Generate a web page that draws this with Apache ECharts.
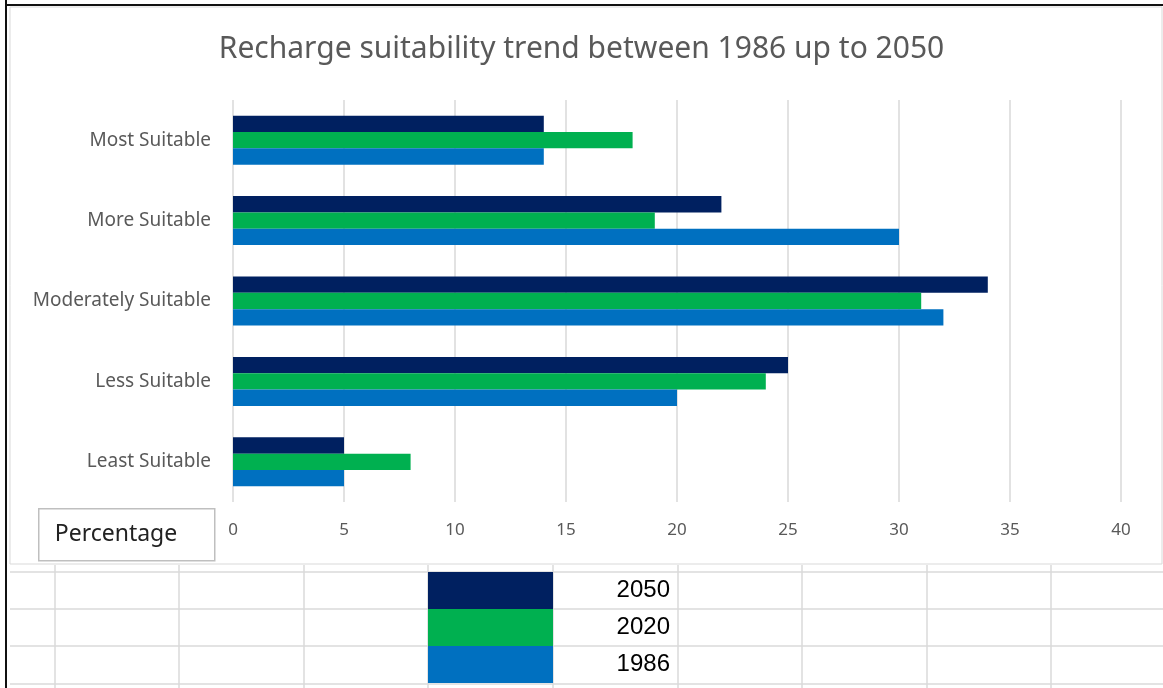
<!DOCTYPE html>
<html>
<head>
<meta charset="utf-8">
<script src="https://cdn.jsdelivr.net/npm/echarts@6/dist/echarts.min.js"></script>
<style>
html,body{margin:0;padding:0;background:#fff;}
#main{width:1163px;height:688px;}
</style>
</head>
<body>
<div id="main"></div>
<script>
var categories = ['Most Suitable', 'More Suitable', 'Moderately Suitable', 'Less Suitable', 'Least Suitable'];
var years = ['2050', '2020', '1986'];
var values2050 = [14, 22, 34, 25, 5];
var values2020 = [18, 19, 31, 24, 8];
var values1986 = [14, 30, 32, 20, 5];
var xTicks = { min: 0, max: 40, step: 5 };

var colors = ['#002060', '#00b050', '#0070c0'];
var seriesValues = [values2050, values2020, values1986];

var chart = echarts.init(document.getElementById('main'));

// spreadsheet grid under the chart (decoration only)
var gridLines = [];
var rowsY = [572, 609, 646, 684];
var colsX = [55, 179, 304, 428, 553, 678, 802, 927, 1051];
rowsY.forEach(function (y) {
    gridLines.push({ type: 'line', z: 0, shape: { x1: 10, y1: y, x2: 1163, y2: y }, style: { stroke: '#dadada', lineWidth: 1.5 } });
});
colsX.forEach(function (x) {
    gridLines.push({ type: 'line', z: 0, shape: { x1: x, y1: 565, x2: x, y2: 688 }, style: { stroke: '#dadada', lineWidth: 1.5 } });
});
gridLines.push({ type: 'rect', z: 0, shape: { x: 10, y: 7, width: 1152, height: 557 }, style: { fill: null, stroke: '#d9d9d9', lineWidth: 1 } });
gridLines.push({ type: 'line', z: 1, shape: { x1: 6, y1: 0, x2: 6, y2: 688 }, style: { stroke: '#111', lineWidth: 2 } });
gridLines.push({ type: 'line', z: 1, shape: { x1: 6, y1: 5, x2: 1163, y2: 5 }, style: { stroke: '#111', lineWidth: 2 } });
gridLines.push({
    type: 'group', left: 38, top: 508, z: 5,
    children: [
        { type: 'rect', shape: { x: 0, y: 0, width: 176, height: 52 }, style: { fill: '#fff', stroke: '#bfbfbf', lineWidth: 1.5 } },
        { type: 'text', x: 16, y: 26, style: { text: 'Percentage', font: '23px "Noto Sans"', fill: '#222', verticalAlign: 'middle' } }
    ]
});

var option = {
    animation: false,
    backgroundColor: '#fff',
    title: {
        text: 'Recharge suitability trend between 1986 up to 2050',
        left: 'center',
        top: 29,
        textStyle: { fontFamily: 'Noto Sans', fontSize: 30, fontWeight: 'normal', color: '#595959' }
    },
    legend: {
        data: years,
        orient: 'vertical',
        left: 428,
        top: 572,
        padding: 0,
        itemGap: 0,
        itemWidth: 125,
        itemHeight: 37,
        icon: 'rect',
        selectedMode: false,
        formatter: function (name) { return '{v|' + name + '}'; },
        textStyle: {
            rich: {
                v: { width: 112, align: 'right', fontFamily: 'Liberation Sans', fontSize: 24, color: '#000' }
            }
        }
    },
    grid: { left: 233, right: 42, top: 100, bottom: 186 },
    xAxis: {
        type: 'value',
        min: xTicks.min,
        max: xTicks.max,
        interval: xTicks.step,
        axisLine: { show: false },
        axisTick: { show: false },
        splitLine: { lineStyle: { color: '#d9d9d9', width: 1.5 } },
        axisLabel: { color: '#595959', fontFamily: 'Noto Sans', fontSize: 17, margin: 20 }
    },
    yAxis: {
        type: 'category',
        inverse: true,
        data: categories,
        axisLine: { show: false },
        axisTick: { show: false },
        axisLabel: { color: '#595959', fontFamily: 'Noto Sans', fontSize: 19, margin: 22 }
    },
    series: years.map(function (y, i) {
        return {
            name: y,
            type: 'bar',
            data: seriesValues[i],
            barGap: '0%',
            barCategoryGap: '39%',
            itemStyle: { color: colors[i] }
        };
    }),
    graphic: gridLines
};
chart.setOption(option);
</script>
</body>
</html>
